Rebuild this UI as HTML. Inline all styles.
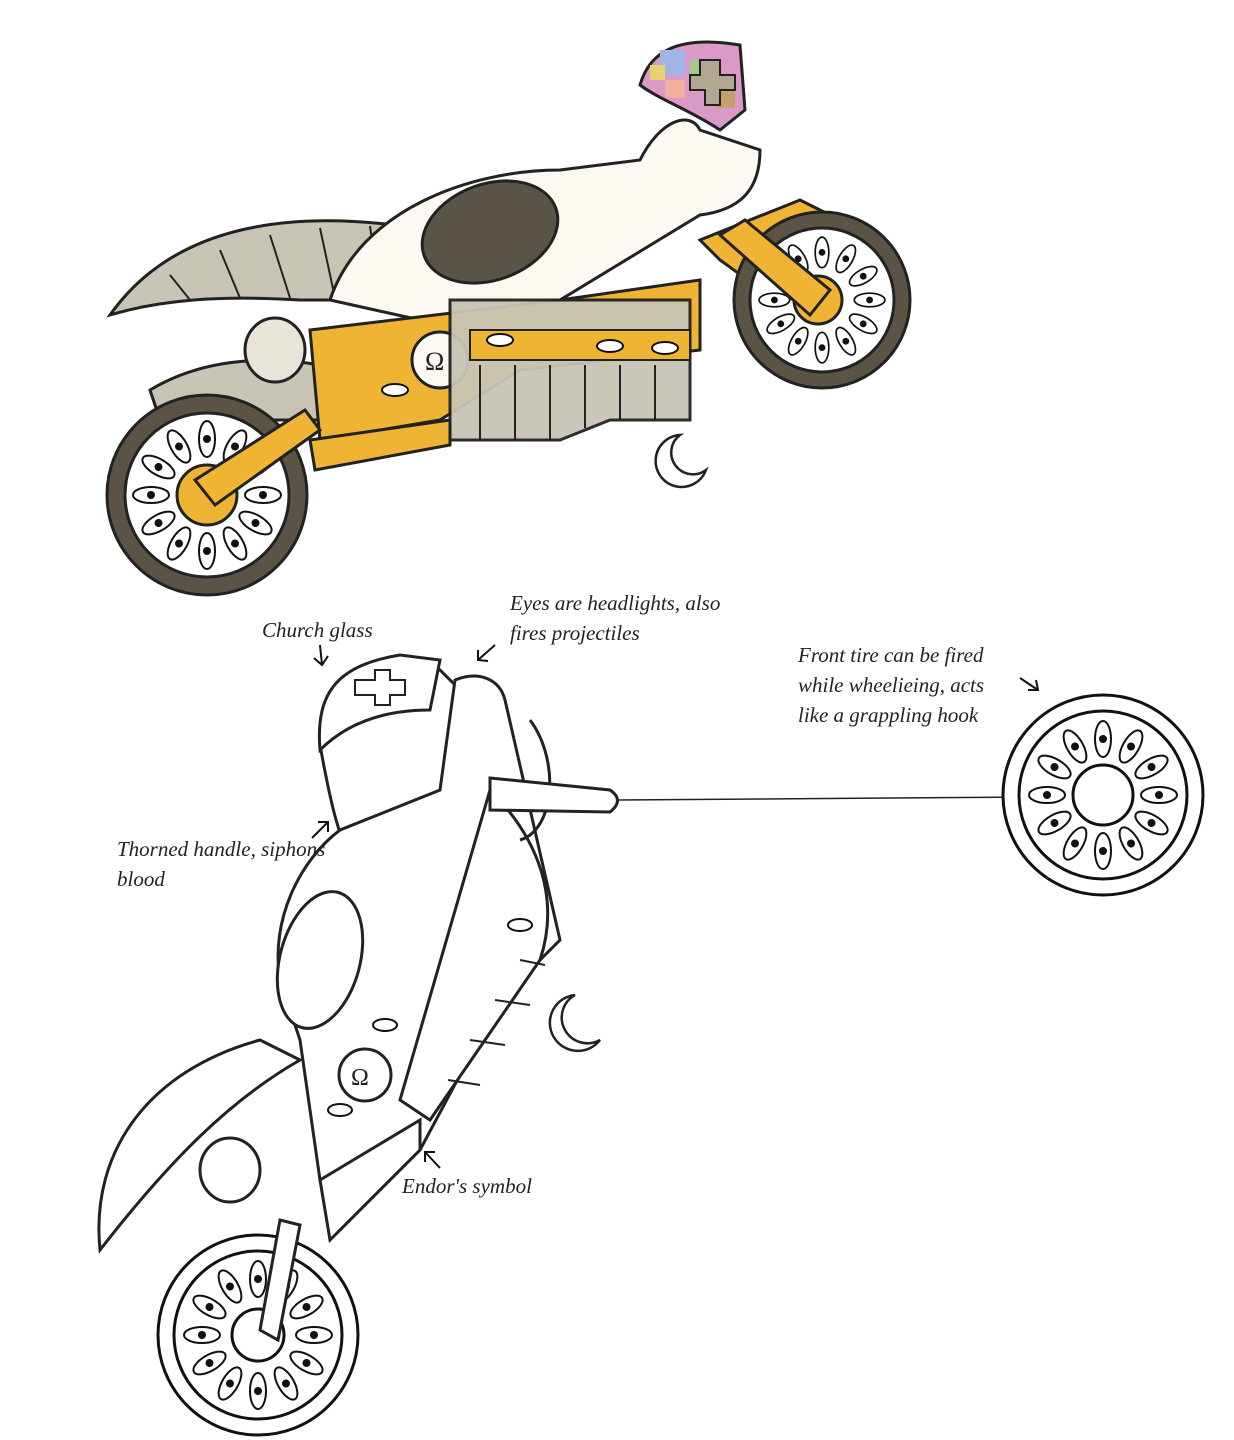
<!DOCTYPE html>
<html><head><meta charset="utf-8"><style>
html,body{margin:0;padding:0;background:#fff;}
svg{display:block}
text{font-family:"Liberation Serif",serif;font-style:italic;fill:#222;font-size:21px}
</style></head><body>
<svg width="1234" height="1440" viewBox="0 0 1234 1440" xmlns="http://www.w3.org/2000/svg">
<defs>
<g id="eye"><ellipse cx="0" cy="-56" rx="8" ry="18" fill="#fff" stroke="#111" stroke-width="2"/><circle cx="0" cy="-56" r="4" fill="#111"/></g>
<g id="spokes">
  <use href="#eye"/><use href="#eye" transform="rotate(30)"/><use href="#eye" transform="rotate(60)"/>
  <use href="#eye" transform="rotate(90)"/><use href="#eye" transform="rotate(120)"/><use href="#eye" transform="rotate(150)"/>
  <use href="#eye" transform="rotate(180)"/><use href="#eye" transform="rotate(210)"/><use href="#eye" transform="rotate(240)"/>
  <use href="#eye" transform="rotate(270)"/><use href="#eye" transform="rotate(300)"/><use href="#eye" transform="rotate(330)"/>
</g>
</defs>

<!-- TOP BIKE -->
<path d="M110,315 C170,230 280,205 430,230 L560,250 L560,300 L300,300 C220,295 160,300 110,315 Z" fill="#c9c5b5" stroke="#222" stroke-width="3"/>
<g stroke="#222" stroke-width="2"><line x1="170" y1="275" x2="190" y2="300"/><line x1="220" y1="250" x2="240" y2="298"/><line x1="270" y1="235" x2="290" y2="298"/><line x1="320" y1="228" x2="335" y2="298"/><line x1="370" y1="226" x2="380" y2="298"/></g>
<path d="M150,390 C200,360 260,355 320,365 L330,420 L160,420 Z" fill="#c9c5b5" stroke="#222" stroke-width="3"/>
<path d="M330,300 C360,210 470,170 560,170 L640,160 C660,120 690,110 700,130 L760,150 C760,190 740,210 700,215 L560,300 L420,320 Z" fill="#fbf9f2" stroke="#222" stroke-width="3"/>
<ellipse cx="490" cy="232" rx="70" ry="48" fill="#5a5447" stroke="#222" stroke-width="3" transform="rotate(-20 490 232)"/>
<path d="M640,85 C650,50 680,35 740,45 L745,110 L720,130 C690,110 660,100 640,85 Z" fill="#d99ac8" stroke="#222" stroke-width="3"/>
<rect x="660" y="50" width="25" height="25" fill="#9fb5e8"/><rect x="690" y="60" width="25" height="25" fill="#a3c98a"/><rect x="665" y="80" width="20" height="18" fill="#f2b0a0"/><rect x="715" y="90" width="20" height="18" fill="#c4a070"/><rect x="650" y="65" width="15" height="15" fill="#e8d070"/>
<path d="M700,60 L720,60 L720,75 L735,75 L735,90 L720,90 L720,105 L705,105 L705,90 L690,90 L690,75 L700,75Z" fill="#b0a890" stroke="#222" stroke-width="2"/>
<path d="M310,330 L560,300 L700,280 L700,350 L520,370 L440,420 L320,440 Z" fill="#f0b435" stroke="#222" stroke-width="3"/>
<path d="M700,240 L800,200 L830,215 L840,310 L810,325 L720,260Z" fill="#f0b435" stroke="#222" stroke-width="3"/>
<path d="M310,440 L450,420 L450,445 L315,470Z" fill="#f0b435" stroke="#222" stroke-width="3"/>
<circle cx="440" cy="360" r="28" fill="#fbf9f2" stroke="#222" stroke-width="3"/>
<text x="425" y="370" style="font-style:normal;font-size:26px">Ω</text>
<path d="M450,300 L690,300 L690,420 L610,420 L560,440 L450,440 Z" fill="#c9c5b5" stroke="#222" stroke-width="3" opacity="0.95"/>
<g stroke="#222" stroke-width="2"><line x1="480" y1="365" x2="480" y2="440"/><line x1="515" y1="365" x2="515" y2="440"/><line x1="550" y1="365" x2="550" y2="440"/><line x1="585" y1="365" x2="585" y2="428"/><line x1="620" y1="365" x2="620" y2="420"/><line x1="655" y1="365" x2="655" y2="420"/></g>
<path d="M470,330 L690,330 L690,360 L470,360Z" fill="#f0b435" stroke="#222" stroke-width="2"/>
<g fill="#fff" stroke="#111" stroke-width="2"><ellipse cx="500" cy="340" rx="13" ry="6"/><ellipse cx="610" cy="346" rx="13" ry="6"/><ellipse cx="665" cy="348" rx="13" ry="6"/><ellipse cx="395" cy="390" rx="13" ry="6"/></g>
<ellipse cx="275" cy="350" rx="30" ry="32" fill="#e8e4d8" stroke="#222" stroke-width="3"/>
<circle cx="207" cy="495" r="100" fill="#5b5444" stroke="#222" stroke-width="3"/>
<circle cx="207" cy="495" r="82" fill="#fff" stroke="#222" stroke-width="3"/>
<use href="#spokes" transform="translate(207 495)"/>
<circle cx="207" cy="495" r="30" fill="#f0b435" stroke="#222" stroke-width="3"/>
<path d="M195,480 L305,410 L320,430 L215,505Z" fill="#f0b435" stroke="#222" stroke-width="3"/>
<circle cx="822" cy="300" r="88" fill="#5b5444" stroke="#222" stroke-width="3"/>
<circle cx="822" cy="300" r="72" fill="#fff" stroke="#222" stroke-width="3"/>
<use href="#spokes" transform="translate(822 300) scale(0.85)"/>
<circle cx="818" cy="300" r="24" fill="#f0b435" stroke="#222" stroke-width="3"/>
<path d="M720,235 L745,220 L830,290 L810,315Z" fill="#f0b435" stroke="#222" stroke-width="3"/>
<path d="M680,435 A26,26 0 1,0 706,470 A20,20 0 1,1 680,435Z" fill="#fff" stroke="#222" stroke-width="2.5"/>

<!-- BOTTOM BIKE -->
<path d="M320,745 C330,700 360,680 440,670 L460,690 C470,740 470,780 465,820 L360,870 C340,850 330,800 320,745Z" fill="#fff" stroke="#222" stroke-width="3"/>
<path d="M455,680 C480,670 500,680 505,700 L560,940 L500,1000 L420,1150 L320,1180 L300,1040 L280,980 C270,920 300,860 340,830 L440,790Z" fill="#fff" stroke="#222" stroke-width="3"/>
<ellipse cx="320" cy="960" rx="40" ry="70" fill="#fff" stroke="#222" stroke-width="3" transform="rotate(15 320 960)"/>
<path d="M100,1250 C90,1150 150,1070 260,1040 L300,1060 C230,1100 170,1160 100,1250Z" fill="#fff" stroke="#222" stroke-width="3"/>
<path d="M490,790 C540,840 560,900 540,960 L430,1120 L400,1100Z" fill="#fff" stroke="#222" stroke-width="3"/>
<g stroke="#222" stroke-width="2"><line x1="520" y1="960" x2="545" y2="965"/><line x1="495" y1="1000" x2="530" y2="1005"/><line x1="470" y1="1040" x2="505" y2="1045"/><line x1="448" y1="1080" x2="480" y2="1085"/></g>
<path d="M530,720 C560,760 555,830 520,840" fill="none" stroke="#222" stroke-width="3"/>
<ellipse cx="230" cy="1170" rx="30" ry="32" fill="#fff" stroke="#222" stroke-width="3"/>
<circle cx="365" cy="1075" r="26" fill="#fff" stroke="#222" stroke-width="3"/>
<text x="351" y="1085" style="font-style:normal;font-size:24px">Ω</text>
<g fill="#fff" stroke="#111" stroke-width="2"><ellipse cx="520" cy="925" rx="12" ry="6"/><ellipse cx="385" cy="1025" rx="12" ry="6"/><ellipse cx="340" cy="1110" rx="12" ry="6"/></g>
<path d="M320,1180 L420,1120 L420,1150 L330,1240Z" fill="#fff" stroke="#222" stroke-width="3"/>
<path d="M320,750 C315,690 340,665 400,655 L440,660 L430,710 C380,710 345,725 320,750Z" fill="#fff" stroke="#222" stroke-width="3"/>
<path d="M355,680 L375,680 L375,670 L390,670 L390,680 L405,680 L405,695 L390,695 L390,705 L375,705 L375,695 L355,695Z" fill="#fff" stroke="#222" stroke-width="2"/>
<path d="M490,778 L610,790 Q625,800 610,812 L490,810Z" fill="#fff" stroke="#222" stroke-width="3"/>
<line x1="618" y1="800" x2="1030" y2="797" stroke="#222" stroke-width="1.5"/>
<circle cx="258" cy="1335" r="100" fill="#fff" stroke="#111" stroke-width="3"/>
<circle cx="258" cy="1335" r="84" fill="#fff" stroke="#111" stroke-width="3"/>
<use href="#spokes" transform="translate(258 1335)"/>
<circle cx="258" cy="1335" r="26" fill="#fff" stroke="#111" stroke-width="3"/>
<path d="M260,1330 L280,1220 L300,1225 L278,1340Z" fill="#fff" stroke="#222" stroke-width="3"/>
<circle cx="1103" cy="795" r="100" fill="#fff" stroke="#111" stroke-width="3"/>
<circle cx="1103" cy="795" r="84" fill="#fff" stroke="#111" stroke-width="3"/>
<use href="#spokes" transform="translate(1103 795)"/>
<circle cx="1103" cy="795" r="30" fill="#fff" stroke="#111" stroke-width="3"/>
<path d="M575,995 A28,28 0 1,0 600,1040 A22,22 0 1,1 575,995Z" fill="#fff" stroke="#222" stroke-width="2.5"/>

<text x="262" y="637">Church glass</text>
<text x="510" y="610">Eyes are headlights, also</text>
<text x="510" y="640">fires projectiles</text>
<text x="798" y="662">Front tire can be fired</text>
<text x="798" y="692">while wheelieing, acts</text>
<text x="798" y="722">like a grappling hook</text>
<text x="117" y="856">Thorned handle, siphons</text>
<text x="117" y="886">blood</text>
<text x="402" y="1193">Endor's symbol</text>
<g stroke="#111" stroke-width="2" fill="none">
<path d="M320,645 L322,665 M314,658 L322,665 L328,656"/>
<path d="M495,645 L478,660 M478,650 L478,660 L488,661"/>
<path d="M1020,678 L1038,690 M1028,690 L1038,690 L1036,680"/>
<path d="M312,838 L328,822 M318,822 L328,822 L328,832"/>
<path d="M440,1168 L425,1152 M425,1162 L425,1152 L435,1152"/>
</g>
</svg>
</body></html>
